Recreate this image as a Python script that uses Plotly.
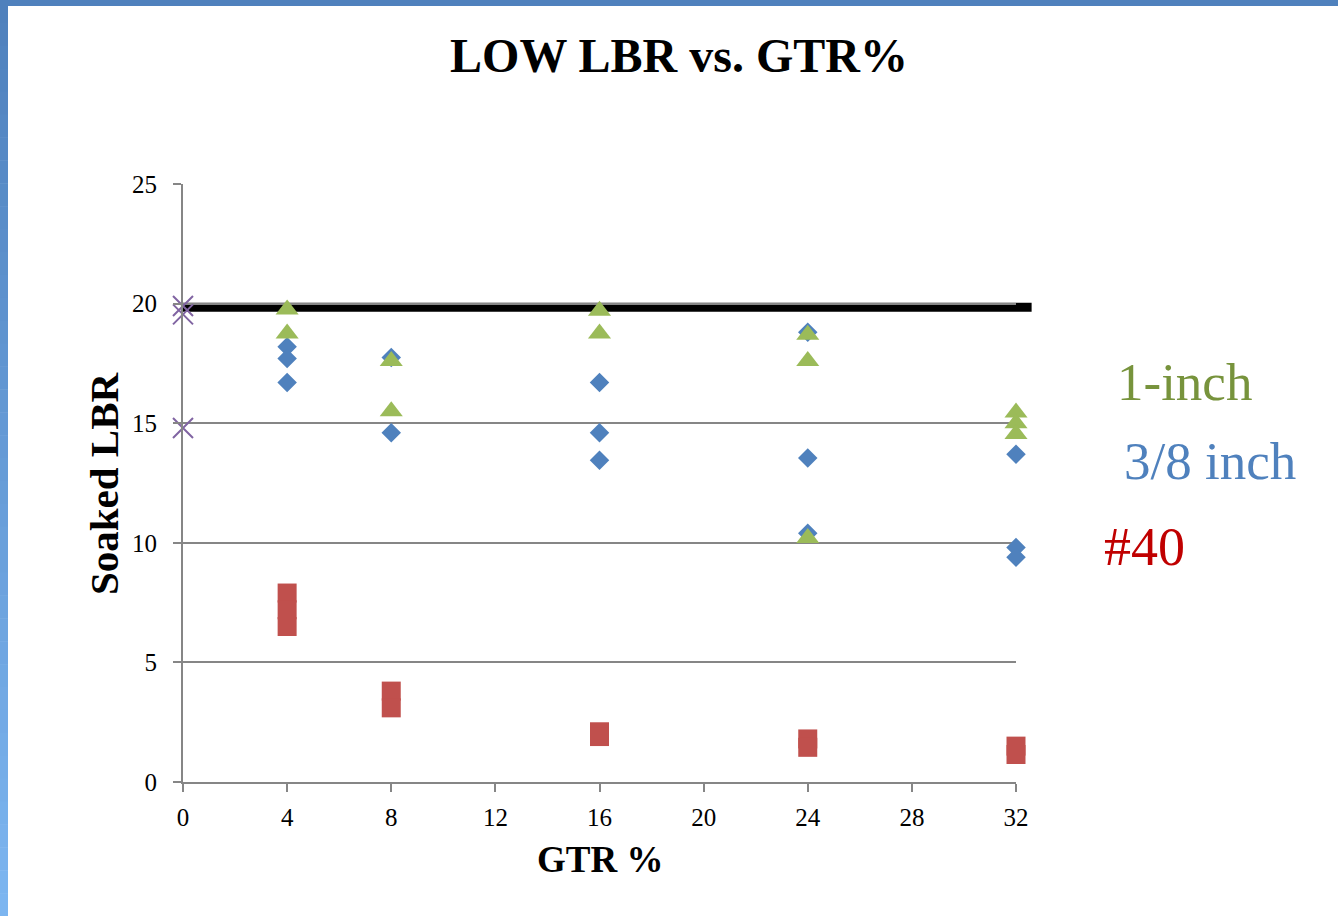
import plotly.graph_objects as go

# ---- data ----
std_x = [0, 32.6]
std_y = [19.85, 19.85]

gtr0_x = [0, 0, 0]
gtr0_y = [19.9, 19.55, 14.8]

inch1_x = [4, 4, 8, 8, 16, 16, 24, 24, 24, 32, 32, 32]
inch1_y = [19.75, 18.75, 17.6, 15.5, 19.7, 18.75, 18.7, 17.6, 10.2, 15.45, 15.0, 14.55]

inch38_x = [4, 4, 4, 8, 8, 16, 16, 16, 24, 24, 24, 32, 32, 32]
inch38_y = [18.2, 17.7, 16.7, 17.75, 14.6, 16.7, 14.6, 13.45, 18.8, 13.55, 10.4, 13.7, 9.8, 9.4]

no40_x = [4, 4, 4, 8, 8, 16, 16, 24, 24, 32, 32]
no40_y = [7.9, 7.2, 6.5, 3.8, 3.1, 2.1, 1.9, 1.8, 1.45, 1.5, 1.15]

x_ticks = [0, 4, 8, 12, 16, 20, 24, 28, 32]
y_ticks = [0, 5, 10, 15, 20, 25]
x_max = 32
y_max = 25

SERIF = "Times New Roman, Liberation Serif, serif"
W, H = 1338, 916
L, R, T, B = 183, 1016, 184, 782  # plot area pixels

fig = go.Figure()
fig.add_trace(go.Scatter(x=no40_x, y=no40_y, mode="markers", cliponaxis=False,
                         marker=dict(symbol="square", size=19, color="#C0504D")))
fig.add_trace(go.Scatter(x=inch38_x, y=inch38_y, mode="markers", cliponaxis=False,
                         marker=dict(symbol="diamond", size=15, color="#4F81BD")))
fig.add_trace(go.Scatter(x=inch1_x, y=inch1_y, mode="markers", cliponaxis=False,
                         marker=dict(symbol="triangle-up", size=20, color="#9BBB59")))
fig.add_trace(go.Scatter(x=gtr0_x, y=gtr0_y, mode="markers", cliponaxis=False,
                         marker=dict(symbol="x-thin-open", size=20, color="#8064A2",
                                     line=dict(color="#8064A2", width=2))))

pw, ph = R - L, B - T
def px(x): return (x - L) / pw
def py(y): return (B - y) / ph

shapes = []
# standard line (extends past the axis end, so drawn in paper coords from the axis ranges)
shapes.append(dict(type="line", xref="paper", yref="paper",
                   x0=std_x[0] / x_max, x1=std_x[1] / x_max,
                   y0=std_y[0] / y_max, y1=std_y[1] / y_max,
                   line=dict(color="black", width=9), layer="between"))
# top band
shapes.append(dict(type="rect", xref="paper", yref="paper",
                   x0=px(0), x1=px(W), y0=py(6), y1=py(0),
                   fillcolor="#4F81BD", line=dict(width=0), layer="above"))
# left band gradient
n = 40
c0 = (79, 129, 189)
c1 = (124, 181, 240)
for i in range(n):
    t = i / (n - 1)
    col = "rgb(%d,%d,%d)" % tuple(round(a + (b - a) * t) for a, b in zip(c0, c1))
    y0p = H * i / n
    y1p = H * (i + 1) / n + 0.5
    shapes.append(dict(type="rect", xref="paper", yref="paper",
                       x0=px(0), x1=px(8), y0=py(y1p), y1=py(y0p),
                       fillcolor=col, line=dict(width=0), layer="above"))

annotations = [
    dict(text="Soaked LBR", xref="paper", yref="paper", x=px(104), y=py(484),
         textangle=-90, showarrow=False, xanchor="center", yanchor="middle",
         font=dict(family=SERIF, size=41, color="black", weight="bold")),
    dict(text="GTR %", xref="paper", yref="paper", x=px(600), y=py(859),
         showarrow=False, xanchor="center", yanchor="middle",
         font=dict(family=SERIF, size=37, color="black", weight="bold")),
    dict(text="1-inch", xref="paper", yref="paper", x=px(1115), y=py(382),
         showarrow=False, xanchor="left", yanchor="middle",
         font=dict(family=SERIF, size=53, color="#77933C")),
    dict(text="3/8 inch", xref="paper", yref="paper", x=px(1122), y=py(461),
         showarrow=False, xanchor="left", yanchor="middle",
         font=dict(family=SERIF, size=53, color="#4F81BD")),
    dict(text="#40", xref="paper", yref="paper", x=px(1102), y=py(547),
         showarrow=False, xanchor="left", yanchor="middle",
         font=dict(family=SERIF, size=54, color="#C00000")),
]

fig.update_layout(
    width=W, height=H,
    margin=dict(l=L, r=W - R, t=T, b=H - B, autoexpand=False),
    paper_bgcolor="white", plot_bgcolor="white",
    showlegend=False,
    title=dict(text="LOW LBR vs. GTR%", x=679 / W, xref="container", xanchor="center",
               y=1 - 55 / H, yref="container", yanchor="middle",
               font=dict(family=SERIF, size=48, color="black", weight="bold")),
    xaxis=dict(range=[0, x_max], tickmode="array", tickvals=x_ticks,
               ticktext=[str(v) for v in x_ticks],
               showgrid=False, zeroline=False, showline=True,
               linecolor="#868686", linewidth=2,
               ticks="outside", ticklen=8, tickwidth=2, tickcolor="#868686",
               ticklabelstandoff=4,
               tickfont=dict(family=SERIF, size=25, color="black")),
    yaxis=dict(range=[0, y_max], tickmode="array", tickvals=y_ticks,
               ticktext=[str(v) for v in y_ticks],
               showgrid=True, gridcolor="#868686", gridwidth=2,
               zeroline=False, showline=True, linecolor="#868686", linewidth=2,
               ticks="outside", ticklen=8, tickwidth=2, tickcolor="#868686",
               ticklabelstandoff=11,
               tickfont=dict(family=SERIF, size=25, color="black")),
    shapes=shapes,
    annotations=annotations,
)

fig.write_html("out.html")
